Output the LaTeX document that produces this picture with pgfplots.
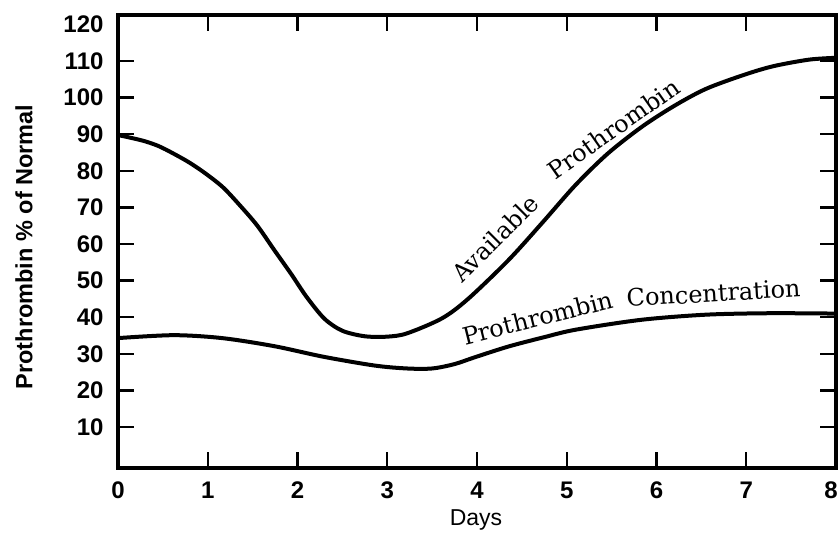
\documentclass[border=0pt]{standalone}
\usepackage{pgfplots}
\pgfplotsset{compat=1.18}
\usepackage{fontspec}
\setmainfont{DejaVu Serif}
\newfontfamily\lsans{Liberation Sans}
\newfontfamily\dserif{DejaVu Serif}
\newcommand{\lbl}{\dserif\fontsize{24}{24}\selectfont}
\begin{document}
\begin{tikzpicture}
\begin{axis}[
  name=ax,
  scale only axis, width=718pt, height=453pt,
  xmin=0, xmax=8, ymin=-1.2, ymax=122.6,
  xtick={0,1,...,8}, ytick={10,20,...,110},
  extra y ticks={120}, extra y tick style={major tick length=0pt},
  xticklabels={0,1,2,3,4,5,6,7,{\kern-10pt 8}},
  tick align=inside,
  xtick pos=both, ytick pos=both,
  xticklabel pos=lower, yticklabel pos=left,
  major tick length=16pt,
  every tick/.style={black, line width=2.4pt},
  axis line style={black, line width=3.2pt},
  ticklabel style={font=\lsans\bfseries\fontsize{24}{24}\selectfont},
  xticklabel style={yshift=-10pt},
  yticklabel style={xshift=-11pt},
  /pgf/number format/assume math mode=true,
  xlabel={Days},
  ylabel={Prothrombin \% of Normal},
  xlabel style={font=\lsans\fontsize{23}{23}\selectfont, at={(axis description cs:0.4986,-0.1148)}, anchor=center},
  ylabel style={font=\lsans\bfseries\fontsize{23.5}{23.5}\selectfont, at={(axis description cs:-0.1309,0.488)}, anchor=center},
  clip=false,
]
\addplot[black, line width=4pt, smooth] coordinates {
(0,89.8) (0.27,88.3) (0.45,86.8) (0.62,84.7) (0.80,82.2) (0.98,79.2) (1.17,75.5)
(1.35,70.8) (1.55,65.1) (1.74,58.4) (1.93,51.8) (2.1,45.6) (2.3,39.6) (2.5,36.3)
(2.75,34.8) (3.0,34.7) (3.22,35.6) (3.61,39.7) (3.90,45) (4.35,55.6) (4.73,65.9)
(5.10,76.2) (5.46,84.8) (5.84,92.1) (6.20,97.8) (6.55,102.4) (6.97,106.2) (7.30,108.6)
(7.70,110.4) (8,110.9)
};
\addplot[black, line width=4pt, smooth] coordinates {
(0,34.3) (0.62,35.1) (1.16,34.3) (1.74,32.1) (2.29,29.2) (2.86,26.8) (3.22,26)
(3.5,26) (3.75,27.2) (3.98,29.1) (4.35,32) (4.74,34.5) (5.10,36.6) (5.83,39.3)
(6.55,40.7) (7.26,41.1) (8,41)
};
\node[font=\lbl, rotate=45, anchor=base west, inner sep=0pt] at (axis cs:3.833,49.1) {Available};
\node[font=\lbl, rotate=35, anchor=base west, inner sep=0pt] at (axis cs:4.87,77.4) {Prothrombin};
\node[font=\lbl, rotate=14, anchor=base west, inner sep=0pt] at (axis cs:3.866,32.4) {Prothrombin};
\node[font=\lbl, rotate=3.5, anchor=base west, inner sep=0pt] at (axis cs:5.671,42.8) {Concentration};
\end{axis}
\pgfresetboundingbox
\path ([shift={(-118pt,-70pt)}]ax.south west) rectangle ([shift={(4pt,15pt)}]ax.north east);
\end{tikzpicture}
\end{document}
